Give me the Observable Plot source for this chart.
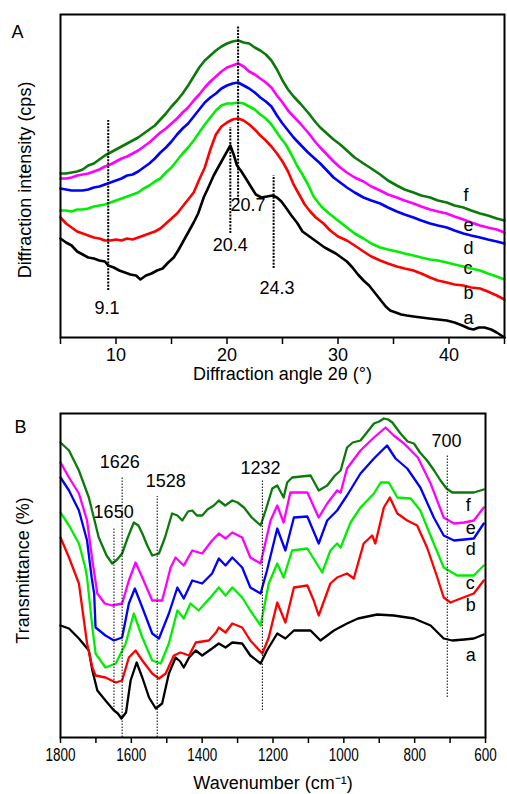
<!DOCTYPE html>
<html><head><meta charset="utf-8">
<script src="https://cdn.jsdelivr.net/npm/d3@7"></script>
<script src="https://cdn.jsdelivr.net/npm/@observablehq/plot@0.6"></script>
<style>
body{margin:0;background:#fff;}
#chart svg{display:block;}
</style>
</head><body><div id="chart"></div>
<script>
// ---------- Panel A: XRD (2θ, intensity in arbitrary cps units) ----------
const xrd_a = [[5,99],[5.5,95],[6,92],[6.5,86],[7,83],[7.5,80],[8,79],[8.5,77],[9,76],[9.3,72],[9.8,70],[10.3,67],[10.8,65],[11.3,63],[11.8,62],[12.2,58],[12.7,62],[13.2,64],[13.7,67],[14.2,69],[14.7,75],[15.2,80],[15.6,87],[16,95],[16.5,105],[17,115],[17.4,124],[17.9,140],[18.4,152],[18.8,162],[19.2,170],[19.6,178],[20,186],[20.3,192],[20.6,183],[20.9,172],[21.3,166],[21.7,159],[22.2,150],[22.6,143],[23.1,140],[23.6,141],[24.1,142],[24.5,140],[24.9,136],[25.3,130],[25.8,122],[26.3,115],[26.8,106],[27.3,102],[27.8,98],[28.3,94],[28.8,90],[29.3,87],[29.8,84],[30.3,80],[30.8,76],[31.3,70],[31.8,63],[32.3,57],[32.8,52],[33.3,45],[33.8,38],[34.3,31],[34.7,27],[35.2,25],[35.7,23],[36.2,22],[36.8,21],[37.5,20],[38.2,19],[39,18],[39.8,17],[40.5,15],[41.2,12],[41.8,9],[42.2,8],[42.7,10],[43.2,10],[43.8,8],[44.3,5],[45,0]];
const xrd_b = [[5,120],[5.5,114],[6,110],[6.5,106],[7,104],[7.5,102],[8,100],[8.5,99],[9,97],[9.5,97],[10,98],[10.5,97],[11,99],[11.5,98],[12,100],[12.5,102],[13,104],[13.5,106],[14,109],[14.5,114],[15,119],[15.5,124],[16,131],[16.5,138],[17,145],[17.5,158],[18,170],[18.5,188],[19,203],[19.5,211],[20,215],[20.5,218],[21,219],[21.5,217],[22,213],[22.5,208],[23,202],[23.5,197],[24,191],[24.5,184],[25,176],[25.5,166],[26,153],[26.6,141],[27,133],[27.5,126],[28,120],[28.7,114],[29.3,107],[30,101],[30.8,97],[31.5,92],[32.3,86],[33,81],[33.8,77],[34.5,74],[35.3,71],[36,69],[36.8,67],[37.5,64],[38.3,60],[39,57],[39.8,55],[40.5,53],[41.3,52],[42,50],[42.8,49],[43.5,46],[44.3,42],[45,38]];
const xrd_c = [[5,127],[5.5,127],[6,126],[6.5,128],[7,128],[7.5,129],[8,131],[8.5,132],[9,133],[9.5,135],[10,137],[10.5,139],[11,141],[11.5,143],[12,145],[12.5,149],[13,152],[13.5,156],[14,159],[14.5,165],[15,170],[15.5,177],[16,184],[16.5,190],[17,197],[17.5,205],[18,213],[18.5,220],[19,227],[19.5,232],[20,234],[20.5,234],[21,235],[21.5,234],[22,231],[22.5,228],[23,223],[23.5,219],[24,213],[24.5,205],[24.8,200],[25.3,193],[25.8,183],[26.3,172],[26.8,163],[27.3,153],[27.8,141],[28.5,131],[29.2,124],[30,117],[30.8,110],[31.5,104],[32.3,99],[33,94],[33.8,90],[34.5,88],[35.3,86],[36,84],[36.8,82],[37.5,80],[38.3,78],[39,77],[39.8,75],[40.5,73],[41.3,71],[42,69],[42.8,67],[43.5,64],[44.3,61],[45,58]];
const xrd_d = [[5,149],[5.5,148],[6,147],[6.5,147],[7,147],[7.5,148],[8,150],[8.5,151],[9,153],[9.5,155],[10,157],[10.5,159],[11,162],[11.5,163],[12,166],[12.5,170],[13,174],[13.5,179],[14,185],[14.5,190],[15,196],[15.5,203],[16,209],[16.5,214],[17,221],[17.5,228],[18,235],[18.5,240],[19,244],[19.5,249],[20,252],[20.5,254],[21,255],[21.5,252],[22,249],[22.5,245],[23,240],[23.5,236],[24,231],[24.5,222],[25,214],[25.5,207],[26,200],[26.6,193],[27.3,185],[28,178],[28.4,174],[29,167],[29.6,160],[30.2,155],[30.8,150],[31.5,145],[32.3,140],[33,137],[33.8,134],[34.5,130],[35.3,126],[36,123],[36.8,120],[37.5,117],[38.3,114],[39,112],[39.8,110],[40.5,107],[41.3,104],[42,102],[42.8,100],[43.5,98],[44.3,96],[45,94]];
const xrd_e = [[5,159],[5.5,159],[6,160],[6.5,162],[7,163],[7.5,164],[8,166],[8.5,168],[9,171],[9.5,173],[10,176],[10.5,179],[11,181],[11.5,184],[12,187],[12.5,191],[13,195],[13.5,200],[14,205],[14.5,209],[15,214],[15.5,219],[16,225],[16.5,230],[17,237],[17.5,243],[18,250],[18.5,256],[19,261],[19.5,266],[20,270],[20.5,272],[21,274],[21.5,271],[22,266],[22.5,263],[23,259],[23.5,255],[24,250],[24.5,242],[25,235],[25.5,227],[26,221],[26.6,214],[27.3,205],[28,195],[28.4,190],[29,183],[29.6,176],[30.2,170],[30.8,165],[31.5,160],[32.3,156],[33,151],[33.8,147],[34.5,143],[35.3,140],[36,137],[36.8,134],[37.5,131],[38.3,128],[39,126],[39.8,124],[40.5,121],[41.3,118],[42,115],[42.8,112],[43.5,110],[44.3,108],[45,105]];
const xrd_f = [[5,164],[5.5,164],[6,165],[6.5,166],[7,168],[7.5,172],[8,174],[8.5,178],[9,182],[9.5,185],[10,188],[10.5,191],[11,194],[11.5,197],[12,200],[12.5,204],[13,208],[13.5,212],[14,218],[14.5,224],[15,231],[15.5,237],[16,244],[16.5,252],[17,261],[17.5,270],[18,277],[18.5,282],[19,287],[19.5,291],[20,294],[20.5,296],[21,297],[21.5,295],[22,294],[22.5,290],[23,287],[23.5,283],[24,277],[24.5,268],[25,257],[25.5,248],[26,241],[26.6,234],[27.3,225],[28,215],[28.4,210],[29,204],[29.6,198],[30.2,193],[30.8,187],[31.5,180],[32.3,174],[33,169],[33.8,163],[34.5,157],[35.3,152],[36,148],[36.8,145],[37.5,142],[38.3,140],[39,137],[39.8,135],[40.5,132],[41.3,130],[42,127],[42.8,124],[43.5,122],[44.3,119],[45,117]];

const xrdTicks = [5,10,15,20,25,30,35,40,45];
const xrdPeakX = [9.3, 20.3, 21.0, 24.2];
const xrdPeakTop = [217, 210, 312, 162];
const xrdPeakBottom = [47, 104, 137, 69];
const xrdPeakText = ["9.1", "20.4", "20.7", "24.3"];
const xrdPeakTextX = [9.2, 20.3, 21.9, 24.5];
const xrdPeakTextY = [29, 92, 132, 49];

// ---------- Panel B: FTIR (wavenumber, transmittance arbitrary) ----------
const ir_a = [[1800,112],[1776,109],[1748,99],[1720,87],[1710,67],[1696,47],[1673,37],[1649,27],[1638,24],[1628,19],[1615,25],[1602,57],[1585,75],[1569,60],[1550,40],[1531,29],[1513,34],[1494,64],[1475,80],[1462,76],[1452,70],[1437,80],[1418,87],[1400,82],[1372,89],[1353,94],[1334,90],[1315,95],[1287,94],[1264,82],[1235,74],[1217,87],[1188,104],[1165,99],[1141,107],[1094,107],[1066,97],[1028,107],[991,114],[960,119],[906,123],[859,122],[802,119],[755,112],[718,99],[694,97],[660,98],[633,99],[605,103]];
const ir_b = [[1800,200],[1776,180],[1748,154],[1725,94],[1710,70],[1701,62],[1673,60],[1644,55],[1626,57],[1607,80],[1588,87],[1569,77],[1541,64],[1522,59],[1503,64],[1480,82],[1461,85],[1437,82],[1418,95],[1381,97],[1361,105],[1353,110],[1334,105],[1315,114],[1287,110],[1264,97],[1230,84],[1212,100],[1188,135],[1165,115],[1141,150],[1103,152],[1085,137],[1071,122],[1038,154],[1019,160],[991,164],[972,159],[944,194],[920,202],[911,194],[887,230],[870,240],[849,224],[821,217],[793,212],[765,190],[736,160],[718,140],[699,135],[670,139],[633,144],[605,157]];
const ir_c = [[1800,225],[1776,212],[1748,194],[1730,170],[1725,160],[1710,110],[1701,84],[1673,70],[1644,74],[1616,94],[1593,124],[1569,100],[1541,77],[1517,74],[1494,94],[1470,127],[1452,119],[1433,134],[1410,127],[1372,142],[1353,150],[1334,142],[1315,150],[1287,140],[1264,127],[1235,112],[1212,154],[1188,174],[1170,160],[1146,187],[1103,189],[1061,165],[1038,187],[1019,194],[1009,190],[981,215],[953,230],[915,244],[896,255],[873,255],[849,240],[811,239],[784,227],[746,194],[718,170],[680,162],[633,162],[605,172]];
const ir_d = [[1800,260],[1776,247],[1748,227],[1725,197],[1712,160],[1705,144],[1701,110],[1673,102],[1649,97],[1626,100],[1607,134],[1590,149],[1569,130],[1541,104],[1522,99],[1494,124],[1470,150],[1452,139],[1428,157],[1400,154],[1372,164],[1353,179],[1334,172],[1315,180],[1287,170],[1264,150],[1235,144],[1217,167],[1188,209],[1165,187],[1141,220],[1103,221],[1071,194],[1047,217],[1019,227],[991,242],[953,264],[915,279],[878,292],[854,279],[821,269],[784,250],[746,220],[718,202],[689,197],[660,198],[633,199],[605,214]];
const ir_e = [[1800,275],[1776,260],[1748,244],[1725,217],[1710,177],[1696,144],[1675,134],[1654,132],[1626,134],[1607,157],[1588,175],[1569,160],[1541,137],[1513,137],[1489,170],[1475,180],[1452,172],[1428,187],[1400,184],[1372,197],[1353,204],[1334,199],[1315,205],[1287,200],[1264,180],[1235,174],[1207,217],[1188,232],[1170,215],[1151,245],[1103,245],[1071,220],[1047,234],[1019,247],[1009,245],[991,269],[953,287],[915,300],[882,310],[859,302],[830,294],[791,280],[755,254],[718,220],[689,214],[660,215],[633,217],[605,230]];
const ir_f = [[1800,295],[1776,287],[1748,267],[1720,240],[1692,200],[1670,182],[1654,174],[1640,178],[1626,184],[1610,200],[1593,215],[1580,212],[1569,204],[1555,192],[1541,182],[1522,184],[1505,200],[1485,224],[1470,222],[1456,217],[1440,226],[1428,227],[1415,222],[1400,222],[1385,228],[1367,232],[1353,237],[1335,232],[1315,237],[1300,235],[1282,230],[1260,220],[1235,212],[1220,228],[1202,249],[1188,252],[1170,240],[1160,255],[1146,260],[1120,261],[1094,262],[1080,253],[1071,247],[1047,252],[1025,262],[1009,267],[991,290],[975,295],[953,297],[935,305],[915,314],[900,316],[887,319],[875,318],[863,315],[840,304],[820,296],[802,294],[785,285],[765,277],[745,267],[727,257],[710,249],[694,245],[660,245],[633,245],[605,248]];

const irTicks = [600,700,800,900,1000,1100,1200,1300,1400,1500,1600,1700,1800];
const irBandX = [1649, 1626, 1527, 1230, 708];
const irBandTop = [210, 260, 241, 257, 282];
const irBandBottom = [27, 0, 0, 27, 40];
const irBandText = ["1650", "1626", "1528", "1232", "700"];
const irBandTextX = [1650, 1633, 1503, 1235, 710];
const irBandTextY = [225, 275, 256, 269, 296];

// ---------- shared ----------
const seriesNames = ["a","b","c","d","e","f"];
const seriesColors = ["#000000","#ff0000","#00ee00","#0000ff","#ff00ff","#0b7a0b"];
const xrdLabelX = 41.3;
const xrdLabelY = [19, 44, 69, 89, 112, 142];
const irLabelX = 656;
const irLabelY = [82, 132, 154, 188, 209, 232];

const font = "'Liberation Sans', Arial, Helvetica, sans-serif";

const xrdSeries = [xrd_a, xrd_b, xrd_c, xrd_d, xrd_e, xrd_f];
const irSeries = [ir_a, ir_b, ir_c, ir_d, ir_e, ir_f];

const xrdPeaks = xrdPeakX.map((x, i) => ({x, y1: xrdPeakBottom[i], y2: xrdPeakTop[i], text: xrdPeakText[i], tx: xrdPeakTextX[i], ty: xrdPeakTextY[i]}));
const irBands = irBandX.map((x, i) => ({x, y1: irBandBottom[i], y2: irBandTop[i], text: irBandText[i], tx: irBandTextX[i], ty: irBandTextY[i]}));
const xrdLabels = seriesNames.map((n, i) => ({n, x: xrdLabelX, y: xrdLabelY[i]}));
const irLabels = seriesNames.map((n, i) => ({n, x: irLabelX, y: irLabelY[i]}));

const plotA = Plot.plot({
  width: 507, height: 400,
  marginTop: 14, marginLeft: 60, marginRight: 3, marginBottom: 63,
  style: {fontFamily: font, fontSize: "18px", background: "#fff", color: "#000"},
  x: {domain: [5, 45]},
  y: {domain: [0, 323], axis: null},
  marks: [
    ...xrdSeries.map((s, i) => Plot.line(s, {stroke: seriesColors[i], strokeWidth: 2.6})),
    Plot.ruleX(xrdPeaks, {x: "x", y1: "y1", y2: "y2", stroke: "#000", strokeWidth: 2, strokeDasharray: "2,1.3"}),
    Plot.text(xrdPeaks, {x: "tx", y: "ty", text: "text", fontSize: 18, fill: "#000"}),
    Plot.text(xrdLabels, {x: "x", y: "y", text: "n", fontSize: 18, fill: "#000", textAnchor: "start"}),
    Plot.frame({stroke: "#000", strokeWidth: 2}),
    Plot.axisX({ticks: xrdTicks, tickSize: 7, tickPadding: 4, strokeWidth: 1.5, tickFormat: d => d % 10 === 0 ? String(d) : "", label: null, fontSize: 18}),
    Plot.text(["Diffraction angle 2θ (°)"], {frameAnchor: "bottom", dy: 37, lineAnchor: "middle", textAnchor: "middle", text: d => d, fontSize: 18, fill: "#000"}),
    Plot.text(["Diffraction intensity (cps)"], {frameAnchor: "left", dx: -35, dy: 4, rotate: -90, textAnchor: "middle", lineAnchor: "middle", text: d => d, fontSize: 18, fill: "#000"}),
    Plot.text(["A"], {frameAnchor: "top-left", dx: -49, dy: 18, textAnchor: "start", lineAnchor: "middle", text: d => d, fontSize: 18, fill: "#000"})
  ]
});

const plotB = Plot.plot({
  width: 507, height: 394,
  marginTop: 13, marginLeft: 60, marginRight: 22, marginBottom: 57,
  style: {fontFamily: font, fontSize: "18px", background: "#fff", color: "#000"},
  x: {domain: [600, 1800], reverse: true},
  y: {domain: [0, 324], axis: null},
  marks: [
    ...irSeries.map((s, i) => Plot.line(s, {stroke: seriesColors[i], strokeWidth: 2.3})),
    Plot.ruleX(irBands, {x: "x", y1: "y1", y2: "y2", stroke: "#000", strokeWidth: 1, strokeDasharray: "1.5,1.5"}),
    Plot.text(irBands, {x: "tx", y: "ty", text: "text", fontSize: 18, fill: "#000"}),
    Plot.text(irLabels, {x: "x", y: "y", text: "n", fontSize: 18, fill: "#000", textAnchor: "start"}),
    Plot.frame({stroke: "#000", strokeWidth: 2}),
    Plot.axisX({ticks: irTicks, tickSize: 6, tickPadding: 5, strokeWidth: 1.5, tickFormat: d => d % 200 === 0 ? String(d) : "", label: null, fontSize: 18}),
    Plot.text(["Wavenumber (cm⁻¹)"], {frameAnchor: "bottom", dy: 46, lineAnchor: "middle", textAnchor: "middle", text: d => d, fontSize: 18, fill: "#000"}),
    Plot.text(["Transmittance (%)"], {frameAnchor: "left", dx: -37, dy: -5, rotate: -90, textAnchor: "middle", lineAnchor: "middle", text: d => d, fontSize: 18, fill: "#000"}),
    Plot.text(["B"], {frameAnchor: "top-left", dx: -46, dy: 14, textAnchor: "start", lineAnchor: "middle", text: d => d, fontSize: 18, fill: "#000"})
  ]
});

// Panel B tick labels are drawn narrow in the reference
plotB.querySelectorAll('g[aria-label="x-axis tick label"] text').forEach(t => {
  const s = t.textContent;
  if (s.length) { t.setAttribute("textLength", String(s.length * 7.5)); t.setAttribute("lengthAdjust", "spacingAndGlyphs"); }
});

const root = document.getElementById("chart");
root.append(plotA, plotB);
</script>
</body></html>
